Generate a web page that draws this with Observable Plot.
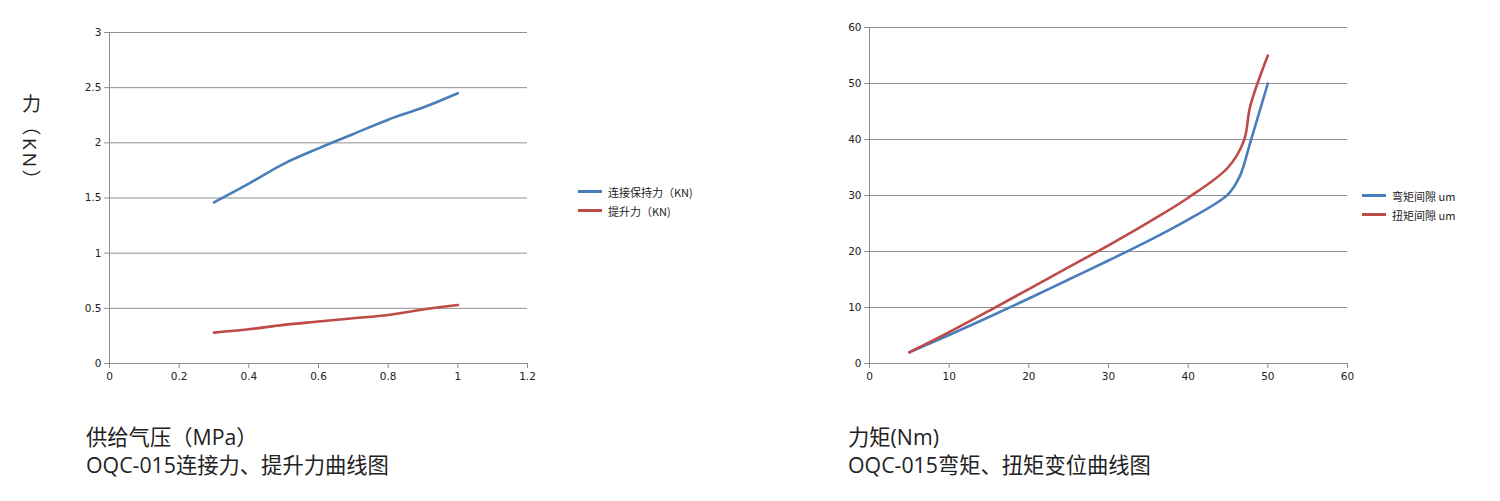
<!DOCTYPE html>
<html><head><meta charset="utf-8">
<script src="https://cdn.jsdelivr.net/npm/d3@7"></script>
<script src="https://cdn.jsdelivr.net/npm/@observablehq/plot@0.6"></script>
<style>
html,body{margin:0;padding:0;background:#fff;width:1500px;height:501px;overflow:hidden;position:relative;font-family:"Open Sans","Noto Sans CJK SC",sans-serif;}
.chart{position:absolute;top:0;}
.ylab{position:absolute;writing-mode:vertical-rl;font-family:"Open Sans","Noto Sans CJK SC",sans-serif;font-size:19px;color:#222;letter-spacing:3px;}
.cap{position:absolute;font-family:"Open Sans","Noto Sans CJK SC",sans-serif;font-size:21.3px;color:#222;line-height:28px;white-space:nowrap;}
.leg{position:absolute;font-family:"Noto Sans CJK SC",sans-serif;font-size:11px;color:#222;}
.leg div{display:flex;align-items:center;height:19px;}
.leg span.sw{display:inline-block;width:24px;height:3px;margin-right:6px;}
</style></head><body>
<div id="c1" class="chart" style="left:0px"></div>
<div id="c2" class="chart" style="left:820px"></div>
<div class="ylab" style="left:17px;top:94px;">力（KN）</div>
<div class="cap" style="left:86px;top:423px;">供给气压（MPa）<br>OQC-015连接力、提升力曲线图</div>
<div class="cap" style="left:848px;top:423px;">力矩(Nm)<br>OQC-015弯矩、扭矩变位曲线图</div>
<div class="leg" style="left:578px;top:182px;">
  <div><span class="sw" style="background:#4a7ebb"></span>连接保持力（KN)</div>
  <div><span class="sw" style="background:#be4b48"></span>提升力（KN)</div>
</div>
<div class="leg" style="left:1362px;top:186px;">
  <div><span class="sw" style="background:#4a7ebb"></span>弯矩间隙 um</div>
  <div><span class="sw" style="background:#be4b48"></span>扭矩间隙 um</div>
</div>
<script>
// Left chart data
const pressure = [0.3, 0.4, 0.5, 0.6, 0.7, 0.8, 0.9, 1.0];
const holdForce = [1.46, 1.63, 1.81, 1.95, 2.08, 2.21, 2.32, 2.45];
const liftForce = [0.28, 0.31, 0.35, 0.38, 0.41, 0.44, 0.49, 0.53];
const leftXTicks = [0, 0.2, 0.4, 0.6, 0.8, 1, 1.2];
const leftYTicks = [0, 0.5, 1, 1.5, 2, 2.5, 3];

// Right chart data
const bendTorque = [5, 10, 15, 20, 25, 30, 35, 40, 45, 46.5, 47.8, 50];
const bendGap    = [2, 5.1, 8.3, 11.6, 15.0, 18.4, 21.9, 25.7, 30.2, 33.5, 39.5, 50];
const twistTorque = [5, 10, 15, 20, 25, 30, 35, 40, 45, 47, 47.8, 50];
const twistGap    = [2, 5.6, 9.4, 13.3, 17.2, 21.1, 25.2, 29.6, 35, 39.8, 46, 55];
const rightXTicks = [0, 10, 20, 30, 40, 50, 60];
const rightYTicks = [0, 10, 20, 30, 40, 50, 60];

const BLUE = "#4a7ebb", RED = "#be4b48", GRID = "#8f8f8f";

const leftData = [
  ...pressure.map((p, i) => ({x: p, y: holdForce[i], s: "连接保持力（KN)"})),
  ...pressure.map((p, i) => ({x: p, y: liftForce[i], s: "提升力（KN)"}))
];
const rightData = [
  ...bendTorque.map((t, i) => ({x: t, y: bendGap[i], s: "弯矩间隙 um"})),
  ...twistTorque.map((t, i) => ({x: t, y: twistGap[i], s: "扭矩间隙 um"}))
];

function make(data, xd, yd, xt, yt, ml, mt, series) {
  return Plot.plot({
    width: 560, height: 390,
    marginLeft: ml, marginRight: 33, marginTop: mt, marginBottom: 27,
    style: {fontFamily: "'DejaVu Sans', sans-serif", fontSize: "10.5px", color: "#222", background: "white"},
    x: {domain: xd, ticks: xt, tickFormat: d => String(d), label: null, tickSize: 5, tickPadding: 4},
    y: {domain: yd, ticks: yt, tickFormat: d => String(d), label: null, tickSize: 5, tickPadding: 3},
    color: {domain: series, range: [BLUE, RED]},
    marks: [
      Plot.gridY(yt, {stroke: GRID, strokeOpacity: 1, strokeWidth: 1}),
      Plot.ruleX([xd[0]], {stroke: GRID, strokeWidth: 1}),
      Plot.ruleY([yd[0]], {stroke: GRID, strokeWidth: 1}),
      Plot.axisX(xt, {tickFormat: d => String(d), stroke: GRID, tickSize: 5, tickPadding: 4, label: null}),
      Plot.axisY(yt, {tickFormat: d => String(d), stroke: GRID, tickSize: 5, tickPadding: 3, label: null}),
      Plot.line(data, {x: "x", y: "y", z: "s", stroke: "s", strokeWidth: 2.6, curve: "catmull-rom"})
    ]
  });
}

document.getElementById("c1").appendChild(
  make(leftData, [0, 1.2], [0, 3], leftXTicks, leftYTicks, 109, 32, ["连接保持力（KN)", "提升力（KN)"]));
document.getElementById("c2").appendChild(
  make(rightData, [0, 60], [0, 60], rightXTicks, rightYTicks, 49, 27, ["弯矩间隙 um", "扭矩间隙 um"]));
</script>
</body></html>
